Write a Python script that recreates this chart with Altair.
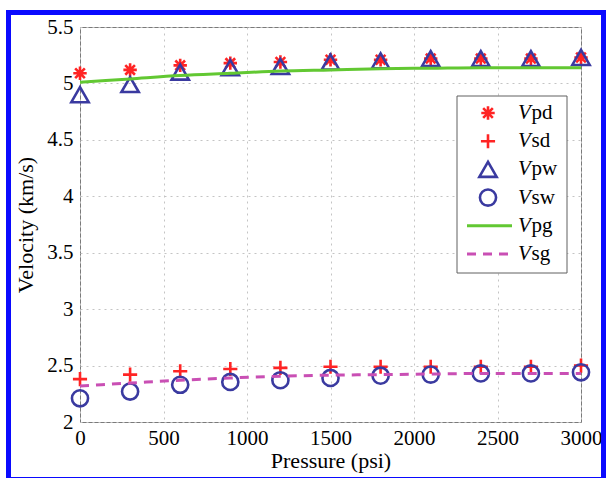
import altair as alt
import pandas as pd

pressure = [0, 300, 600, 900, 1200, 1500, 1800, 2100, 2400, 2700, 3000]
vpd = [5.09, 5.12, 5.16, 5.18, 5.19, 5.21, 5.21, 5.22, 5.22, 5.22, 5.23]
vsd = [2.38, 2.42, 2.45, 2.47, 2.48, 2.49, 2.49, 2.49, 2.49, 2.49, 2.50]
vpw = [4.90, 4.99, 5.10, 5.14, 5.15, 5.19, 5.20, 5.22, 5.22, 5.22, 5.23]
vsw = [2.21, 2.27, 2.33, 2.355, 2.37, 2.39, 2.41, 2.42, 2.43, 2.43, 2.44]
vpg = [5.01, 5.04, 5.07, 5.09, 5.11, 5.12, 5.13, 5.135, 5.14, 5.14, 5.14]
vsg = [2.32, 2.345, 2.37, 2.39, 2.405, 2.415, 2.42, 2.425, 2.43, 2.43, 2.43]

legend_suffix = ["pd", "sd", "pw", "sw", "pg", "sg"]
x_ticks = [0, 500, 1000, 1500, 2000, 2500, 3000]
y_ticks = [2, 2.5, 3, 3.5, 4, 4.5, 5, 5.5]

RED = "#ff2424"
BLUE = "#3a3aa0"
GREEN = "#62c832"
MAGENTA = "#c94fb4"
FONT = "Liberation Serif"

ASTERISK = "M-1,0L1,0M0,-1L0,1M-0.72,-0.72L0.72,0.72M-0.72,0.72L0.72,-0.72"
PLUS = "M-1,0L1,0M0,-1L0,1"

df = pd.DataFrame({"p": pressure, "vpd": vpd, "vsd": vsd, "vpw": vpw,
                   "vsw": vsw, "vpg": vpg, "vsg": vsg})

xs = alt.Scale(domain=[0, 3000], nice=False, zero=False)
ys = alt.Scale(domain=[2, 5.5], nice=False, zero=False)

axis_common = dict(grid=True, domain=False, ticks=False, labelFlush=False,
                   labelFontSize=21,
                   titleFontSize=22, labelColor="black", titleColor="black",
                   titleFontWeight="normal", gridColor="#c4c4c4",
                   gridDash=[2, 4], gridWidth=1, labelOverlap=False)

xenc = alt.X("p:Q", scale=xs, axis=alt.Axis(
    values=x_ticks, title="Pressure (psi)", labelPadding=5, titlePadding=2,
    format="d", **axis_common))
def yenc(col):
    return alt.Y(f"{col}:Q", scale=ys, axis=alt.Axis(
        values=y_ticks, title="Velocity (km/s)", labelPadding=7,
        titlePadding=9, format="~g", **axis_common))

base = alt.Chart(df)

pts_pd = base.mark_point(shape=ASTERISK, size=180, stroke=RED, strokeWidth=2.6,
                         filled=False, opacity=1).encode(x=xenc, y=yenc("vpd"))
pts_sd = base.mark_point(shape=PLUS, size=200, stroke=RED, strokeWidth=2.6,
                         filled=False, opacity=1).encode(x=xenc, y=yenc("vsd"))
pts_pw = base.mark_point(shape="triangle-up", size=300, stroke=BLUE, strokeWidth=2.6,
                         filled=False, opacity=1).encode(x=xenc, y=yenc("vpw"))
pts_sw = base.mark_point(shape="circle", size=260, stroke=BLUE, strokeWidth=2.6,
                         filled=False, opacity=1).encode(x=xenc, y=yenc("vsw"))
line_pg = base.mark_line(color=GREEN, strokeWidth=3, interpolate="monotone").encode(
    x=xenc, y=yenc("vpg"))
line_sg = base.mark_line(color=MAGENTA, strokeWidth=3, strokeDash=[9, 7],
                         interpolate="monotone").encode(x=xenc, y=yenc("vsg"))

one = alt.Chart(pd.DataFrame({"a": [0]}))

frame = one.mark_rect(fillOpacity=0, stroke="#0a0aff", strokeWidth=5).encode(
    x=alt.value(-71.5), x2=alt.value(523.5), y=alt.value(-14.5), y2=alt.value(452.5))

row0, step = 86, 28.2
sym_x, line_x1, line_x2, text_x = 408, 387, 432, 438
legend_box = one.mark_rect(fill="white", stroke="#606060", strokeWidth=1).encode(
    x=alt.value(377), x2=alt.value(487), y=alt.value(69), y2=alt.value(246))
leg = [legend_box]
sym_specs = [(ASTERISK, 180, RED), (PLUS, 200, RED),
             ("triangle-up", 300, BLUE), ("circle", 260, BLUE)]
for i, (shape, size, col) in enumerate(sym_specs):
    leg.append(one.mark_point(shape=shape, size=size, stroke=col, strokeWidth=2.6,
                              filled=False, opacity=1).encode(
        x=alt.value(sym_x), y=alt.value(row0 + step * i)))
leg.append(one.mark_rule(color=GREEN, strokeWidth=3).encode(
    x=alt.value(line_x1), x2=alt.value(line_x2), y=alt.value(row0 + step * 4)))
leg.append(one.mark_rule(color=MAGENTA, strokeWidth=3, strokeDash=[9, 7]).encode(
    x=alt.value(line_x1), x2=alt.value(line_x2), y=alt.value(row0 + step * 5)))
for i, suf in enumerate(legend_suffix):
    leg.append(one.mark_text(text="V", font=FONT, fontSize=21, fontStyle="italic",
                             align="left", baseline="middle", color="black").encode(
        x=alt.value(text_x), y=alt.value(row0 + step * i)))
    leg.append(one.mark_text(text=suf, font=FONT, fontSize=21,
                             align="left", baseline="middle", color="black").encode(
        x=alt.value(text_x + 13.5), y=alt.value(row0 + step * i)))

chart = alt.layer(
    pts_pd, pts_sd, pts_pw, pts_sw, line_pg, line_sg, *leg, frame
).properties(
    width=501, height=395,
    autosize=alt.AutoSizeParams(type="none"),
    padding={"left": 80, "top": 27, "right": 25, "bottom": 56},
    background="white",
).configure(
    font=FONT
).configure_axis(
    labelFont=FONT, titleFont=FONT
).configure_view(
    stroke="#7a7a7a", strokeWidth=1
)

chart.save("out.html", embed_options={"renderer": "svg", "actions": False})
